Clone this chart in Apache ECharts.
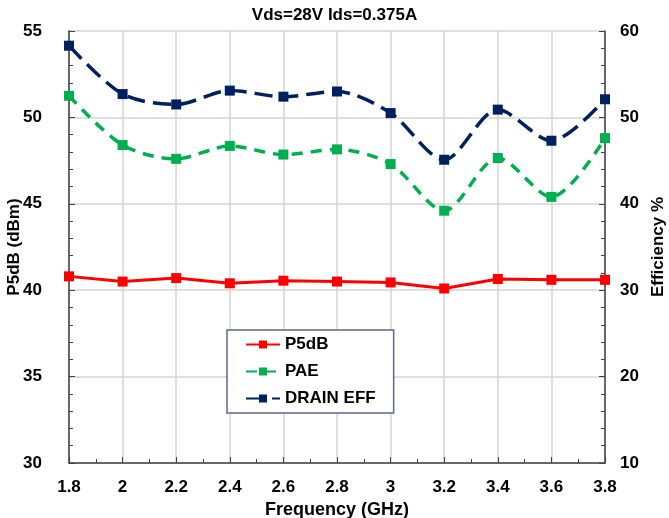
<!DOCTYPE html>
<html>
<head>
<meta charset="utf-8">
<script src="https://cdn.jsdelivr.net/npm/echarts@6/dist/echarts.min.js"></script>
<style>
  html, body { margin: 0; padding: 0; background: #fff; }
  #chart { width: 669px; height: 518px; }
</style>
</head>
<body>
<div id="chart"></div>
<script>
// frequency points (GHz)
var freq = [1.8, 2.0, 2.2, 2.4, 2.6, 2.8, 3.0, 3.2, 3.4, 3.6, 3.8];
// output power at 5dB compression (dBm), left axis
var p5db = [40.8, 40.5, 40.7, 40.4, 40.55, 40.5, 40.45, 40.1, 40.65, 40.6, 40.6];
// efficiencies (%), right axis
var pae = [52.5, 46.8, 45.2, 46.7, 45.7, 46.3, 44.6, 39.2, 45.3, 40.8, 47.6];
var drainEff = [58.3, 52.7, 51.5, 53.1, 52.4, 53.0, 50.5, 45.1, 50.9, 47.3, 52.1];

function pairs(vals) {
  return freq.map(function (f, i) { return [f, vals[i]]; });
}

var font = "'Liberation Sans', Arial, sans-serif";
var chart = echarts.init(document.getElementById('chart'));

chart.setOption({
  animation: false,
  title: {
    text: 'Vds=28V Ids=0.375A',
    left: 'center',
    top: 2,
    textStyle: { fontFamily: font, fontSize: 17, fontWeight: 'bold', color: '#000' }
  },
  legend: {
    orient: 'vertical',
    left: 227,
    top: 330,
    padding: [6, 18, 6, 18],
    itemGap: 10,
    itemWidth: 34,
    itemHeight: 10,
    borderColor: '#59698c',
    borderWidth: 1.5,
    backgroundColor: '#fff',
    textStyle: { fontFamily: font, fontSize: 17, fontWeight: 'bold', color: '#000' },
    data: ['P5dB', 'PAE', 'DRAIN EFF']
  },
  grid: { left: 69, right: 64, top: 31, bottom: 55, outerBoundsMode: 'none' },
  xAxis: {
    type: 'value',
    min: 1.8,
    max: 3.8,
    interval: 0.2,
    name: 'Frequency (GHz)',
    nameLocation: 'middle',
    nameGap: 36,
    nameTextStyle: { fontFamily: font, fontSize: 18, fontWeight: 'bold', color: '#000' },
    axisLine: { lineStyle: { color: '#404040', width: 1.5 } },
    axisTick: { inside: true, length: 6, lineStyle: { color: '#404040' } },
    minorTick: { show: true, splitNumber: 2, length: 4, lineStyle: { color: '#404040' } },
    axisLabel: {
      fontFamily: font, fontSize: 17, fontWeight: 'bold', color: '#000', margin: 16,
      formatter: function (v) { return String(Math.round(v * 10) / 10); }
    },
    splitLine: { show: true, lineStyle: { color: '#d4d4d4', width: 1.5 } }
  },
  yAxis: [
    {
      type: 'value',
      min: 30,
      max: 55,
      interval: 5,
      name: 'P5dB (dBm)',
      nameLocation: 'middle',
      nameGap: 46,
      nameMoveOverlap: false,
      nameTextStyle: { fontFamily: font, fontSize: 17, fontWeight: 'bold', color: '#000' },
      axisLine: { show: true, lineStyle: { color: '#404040', width: 1.5 } },
      axisTick: { show: true, inside: true, length: 6, lineStyle: { color: '#404040' } },
      minorTick: { show: true, splitNumber: 5, length: 4, lineStyle: { color: '#404040' } },
      axisLabel: { fontFamily: font, fontSize: 17, fontWeight: 'bold', color: '#000', margin: 27 },
      splitLine: { show: true, lineStyle: { color: '#d4d4d4', width: 1.5 } }
    },
    {
      type: 'value',
      min: 10,
      max: 60,
      interval: 10,
      position: 'right',
      name: 'Efficiency %',
      nameLocation: 'middle',
      nameGap: 45,
      nameRotate: 90,
      nameTextStyle: { fontFamily: font, fontSize: 17, fontWeight: 'bold', color: '#000' },
      axisLine: { show: true, lineStyle: { color: '#404040', width: 1.5 } },
      axisTick: { show: true, inside: true, length: 6, lineStyle: { color: '#404040' } },
      minorTick: { show: true, splitNumber: 5, length: 4, lineStyle: { color: '#404040' } },
      axisLabel: { fontFamily: font, fontSize: 17, fontWeight: 'bold', color: '#000', margin: 15 },
      splitLine: { show: false }
    }
  ],
  series: [
    {
      name: 'P5dB',
      type: 'line',
      yAxisIndex: 0,
      data: pairs(p5db),
      symbol: 'rect',
      symbolSize: 10,
      itemStyle: { color: '#ff0000' },
      lineStyle: { color: '#ff0000', width: 3 },
      z: 4
    },
    {
      name: 'PAE',
      type: 'line',
      yAxisIndex: 1,
      data: pairs(pae),
      smooth: 0.3,
      symbol: 'rect',
      symbolSize: 10,
      itemStyle: { color: '#00b050' },
      lineStyle: { color: '#00b050', width: 3.5, type: [11, 8] },
      z: 3
    },
    {
      name: 'DRAIN EFF',
      type: 'line',
      yAxisIndex: 1,
      data: pairs(drainEff),
      smooth: 0.3,
      symbol: 'rect',
      symbolSize: 10,
      itemStyle: { color: '#002060' },
      lineStyle: { color: '#002060', width: 3.5, type: [18, 8] },
      z: 2
    }
  ]
});
</script>
</body>
</html>
